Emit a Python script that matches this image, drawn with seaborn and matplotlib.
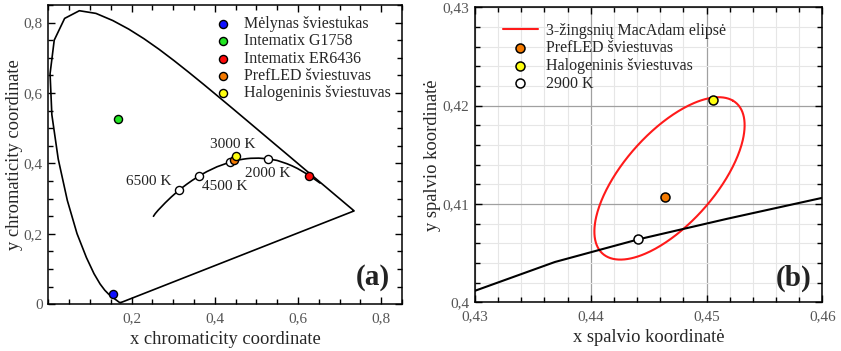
import numpy as np
import pandas as pd
import matplotlib
matplotlib.use("Agg")
import matplotlib.pyplot as plt
from matplotlib.ticker import MultipleLocator, FuncFormatter
import seaborn as sns

# CIE 1931 2-degree spectral locus (chromaticity of monochromatic light)
locus_nm = [380, 400, 420, 425, 430, 435, 440, 445, 450, 455, 460, 465, 470, 475,
            480, 485, 490, 495, 500, 505, 510, 515, 520, 525, 530, 535, 540, 545,
            550, 555, 560, 565, 570, 575, 580, 585, 590, 595, 600, 605, 610, 615,
            620, 625, 630, 640, 650, 660, 680, 700]
locus_x = [0.1741, 0.1733, 0.1714, 0.1703, 0.1689, 0.1669, 0.1644, 0.1611, 0.1566,
           0.1510, 0.1440, 0.1355, 0.1241, 0.1096, 0.0913, 0.0687, 0.0454, 0.0235,
           0.0082, 0.0039, 0.0139, 0.0389, 0.0743, 0.1142, 0.1547, 0.1929, 0.2296,
           0.2658, 0.3016, 0.3373, 0.3731, 0.4087, 0.4441, 0.4788, 0.5125, 0.5448,
           0.5752, 0.6029, 0.6270, 0.6482, 0.6658, 0.6801, 0.6915, 0.7006, 0.7079,
           0.7190, 0.7260, 0.7300, 0.7334, 0.7347]
locus_y = [0.0050, 0.0048, 0.0051, 0.0058, 0.0069, 0.0086, 0.0109, 0.0138, 0.0177,
           0.0227, 0.0297, 0.0399, 0.0578, 0.0868, 0.1327, 0.2007, 0.2950, 0.4127,
           0.5384, 0.6548, 0.7502, 0.8120, 0.8338, 0.8262, 0.8059, 0.7816, 0.7543,
           0.7243, 0.6923, 0.6589, 0.6245, 0.5896, 0.5547, 0.5202, 0.4866, 0.4544,
           0.4242, 0.3965, 0.3725, 0.3514, 0.3340, 0.3197, 0.3083, 0.2993, 0.2920,
           0.2809, 0.2740, 0.2700, 0.2666, 0.2653]

# Planckian (black-body) locus
planck_K = [1000, 1200, 1400, 1500, 1600, 1800, 2000, 2200, 2400, 2500, 2600, 2700,
            2800, 2900, 3000, 3500, 4000, 4500, 5000, 5500, 6000, 6500, 7000, 8000,
            10000, 15000, 20000, 25000]
planck_x = [0.6528, 0.6251, 0.5985, 0.5857, 0.5732, 0.5497, 0.5267, 0.5056, 0.4862,
            0.4770, 0.4685, 0.4599, 0.4518, 0.4441, 0.4369, 0.4053, 0.3805, 0.3608,
            0.3451, 0.3325, 0.3221, 0.3135, 0.3064, 0.2952, 0.2807, 0.2637, 0.2565,
            0.2524]
planck_y = [0.3444, 0.3674, 0.3858, 0.3931, 0.3993, 0.4086, 0.4133, 0.4152, 0.4147,
            0.4137, 0.4123, 0.4106, 0.4085, 0.4064, 0.4041, 0.3907, 0.3768, 0.3636,
            0.3516, 0.3411, 0.3318, 0.3236, 0.3165, 0.3048, 0.2883, 0.2673, 0.2573,
            0.2500]

# Measured light sources
src_names = ["Mėlynas šviestukas", "Intematix G1758", "Intematix ER6436",
             "PrefLED šviestuvas", "Halogeninis šviestuvas"]
src_x = [0.154, 0.167, 0.626, 0.4464, 0.4506]
src_y = [0.028, 0.527, 0.365, 0.4107, 0.4206]
src_colors = ["#1010ff", "#22e622", "#ff0a0a", "#f57a00", "#ffff10"]

# Reference temperatures marked on the black-body curve
cct_marks = [6500, 4500, 3000, 2000]
cct_offsets = [(-22, 6.5), (19, -7.5), (1.5, 12.5), (0, -10.5)]
cct_zoom = 2900

# 3-step MacAdam ellipse: centre, semi-axes and tilt (degrees)
ell_center = (0.4468, 0.4126)
ell_axes = (0.00962, 0.00421)
ell_angle = 55.2

sns.set_theme(style="ticks")
plt.rcParams["font.family"] = ["Liberation Serif", "DejaVu Serif"]
plt.rcParams["axes.linewidth"] = 1.1

planck = pd.DataFrame({"K": planck_K, "x": planck_x, "y": planck_y})
locus = pd.DataFrame({"nm": locus_nm, "x": locus_x, "y": locus_y})
# close the horseshoe with the line of purples
locus = pd.concat([locus, locus.iloc[[0]]], ignore_index=True)


def comma(v, pos):
    s = f"{v:.4f}".rstrip("0").rstrip(".")
    return s.replace(".", ",")


def style_axes(ax):
    ax.tick_params(which="both", direction="in", top=True, right=True,
                   colors="black", labelcolor="#555555", labelsize=11, width=1)
    ax.tick_params(which="major", length=5)
    ax.tick_params(which="minor", length=3.5)
    ax.tick_params(axis="x", which="major", pad=5.5)
    ax.tick_params(axis="y", which="major", pad=4)
    ax.xaxis.set_major_formatter(FuncFormatter(comma))
    ax.yaxis.set_major_formatter(FuncFormatter(comma))
    for sp in ax.spines.values():
        sp.set_visible(True)
        sp.set_color("black")


fig = plt.figure(figsize=(8.41, 3.51), dpi=100)
ax1 = fig.add_axes([0.0576, 0.1330, 0.4205, 0.8527])
ax2 = fig.add_axes([0.5648, 0.1387, 0.4130, 0.8405])

# ---- (a) full chromaticity diagram ----
sns.lineplot(data=locus, x="x", y="y", sort=False, estimator=None, color="black",
             lw=1.2, ax=ax1)
sns.lineplot(data=planck, x="x", y="y", sort=False, estimator=None, color="black",
             lw=1.2, ax=ax1)
marks = planck[planck["K"].isin(cct_marks)].set_index("K").loc[cct_marks]
sns.scatterplot(data=marks, x="x", y="y", color="white", edgecolor="black",
                s=34, linewidth=1, zorder=4, ax=ax1)
for k, off in zip(cct_marks, cct_offsets):
    ax1.annotate(f"{k} K", (marks.loc[k, "x"], marks.loc[k, "y"]), xytext=off,
                 textcoords="offset points", ha="center", va="center",
                 fontsize=11, color="#222222")
for name, x, y, c in zip(src_names, src_x, src_y, src_colors):
    sns.scatterplot(x=[x], y=[y], color=c, edgecolor="black", s=34, linewidth=1,
                    zorder=5, label=name, ax=ax1)
ax1.set_xlim(0, 0.85)
ax1.set_ylim(0, 0.85)
ax1.set_xticks([0.2, 0.4, 0.6, 0.8])
ax1.set_yticks([0, 0.2, 0.4, 0.6, 0.8])
ax1.xaxis.set_minor_locator(MultipleLocator(0.05))
ax1.yaxis.set_minor_locator(MultipleLocator(0.05))
style_axes(ax1)
ax1.set_xlabel("x chromaticity coordinate", fontsize=13.3, labelpad=4.5)
ax1.set_ylabel("y chromaticity coordinate", fontsize=13.3, labelpad=0.5)
ax1.legend(loc="upper right", frameon=False, fontsize=11.5, labelspacing=0.08,
           handletextpad=0.3, borderaxespad=0.3, markerscale=1.0)
ax1.text(0.965, 0.045, "(a)", transform=ax1.transAxes, ha="right", va="bottom",
         fontsize=21, fontweight="bold", color="#222222")

# ---- (b) close-up around 2900 K ----
ax2.set_axisbelow(True)
ax2.grid(which="minor", color="#e6e6e6", lw=0.8)
ax2.grid(which="major", color="#a0a0a0", lw=0.9)
t = np.linspace(0, 2 * np.pi, 361)
th = np.deg2rad(ell_angle)
ex = ell_center[0] + ell_axes[0] * np.cos(t) * np.cos(th) - ell_axes[1] * np.sin(t) * np.sin(th)
ey = ell_center[1] + ell_axes[0] * np.cos(t) * np.sin(th) + ell_axes[1] * np.sin(t) * np.cos(th)
sns.lineplot(x=ex, y=ey, sort=False, estimator=None, color="#ff1a1a", lw=1.5,
             label="3-žingsnių MacAdam elipsė", ax=ax2)
sns.lineplot(data=planck, x="x", y="y", sort=False, estimator=None, color="black",
             lw=1.5, ax=ax2)
for name, x, y, c in list(zip(src_names, src_x, src_y, src_colors))[3:]:
    sns.scatterplot(x=[x], y=[y], color=c, edgecolor="black", s=42, linewidth=1.1,
                    zorder=5, label=name, ax=ax2)
zp = planck[planck["K"] == cct_zoom]
sns.scatterplot(data=zp, x="x", y="y", color="white", edgecolor="black", s=42,
                linewidth=1.1, zorder=5, label=f"{cct_zoom} K", ax=ax2)
ax2.set_xlim(0.43, 0.46)
ax2.set_ylim(0.40, 0.43)
ax2.xaxis.set_major_locator(MultipleLocator(0.01))
ax2.yaxis.set_major_locator(MultipleLocator(0.01))
ax2.xaxis.set_minor_locator(MultipleLocator(0.002))
ax2.yaxis.set_minor_locator(MultipleLocator(0.002))
style_axes(ax2)
ax2.set_xlabel("x spalvio koordinatė", fontsize=13.3, labelpad=4.5)
ax2.set_ylabel("y spalvio koordinatė", fontsize=13.3, labelpad=1)
ax2.legend(loc="upper left", bbox_to_anchor=(0.025, 1.0125), frameon=False,
           fontsize=11.5, labelspacing=0.1, handlelength=2.2, handletextpad=0.5,
           borderaxespad=0.8)
ax2.text(0.97, 0.035, "(b)", transform=ax2.transAxes, ha="right", va="bottom",
         fontsize=21, fontweight="bold", color="#222222")

fig.savefig("out.png", dpi=100)
